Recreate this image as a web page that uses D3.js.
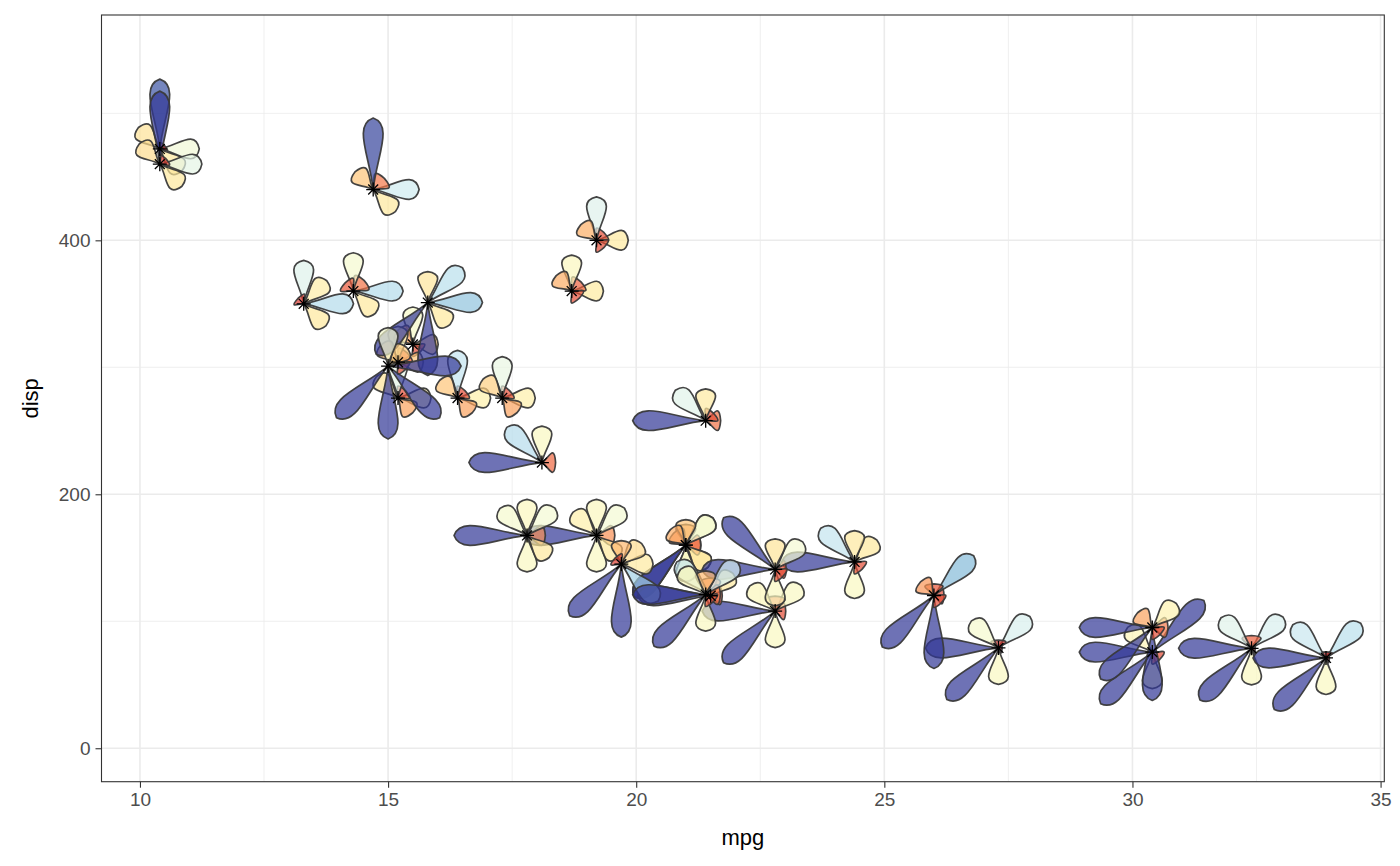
<!DOCTYPE html>
<html>
<head>
<meta charset="utf-8">
<script src="https://cdn.jsdelivr.net/npm/d3@7"></script>
<style>
  body { margin: 0; background: #fff; }
  text { font-family: "Liberation Sans", Arial, Helvetica, sans-serif; }
</style>
</head>
<body>
<svg id="chart" width="1400" height="866"></svg>
<script>
// mtcars, row order as in R
var carNames = ["Mazda RX4", "Mazda RX4 Wag", "Datsun 710", "Hornet 4 Drive", "Hornet Sportabout",
  "Valiant", "Duster 360", "Merc 240D", "Merc 230", "Merc 280", "Merc 280C", "Merc 450SE",
  "Merc 450SL", "Merc 450SLC", "Cadillac Fleetwood", "Lincoln Continental", "Chrysler Imperial",
  "Fiat 128", "Honda Civic", "Toyota Corolla", "Toyota Corona", "Dodge Challenger", "AMC Javelin",
  "Camaro Z28", "Pontiac Firebird", "Fiat X1-9", "Porsche 914-2", "Lotus Europa", "Ford Pantera L",
  "Ferrari Dino", "Maserati Bora", "Volvo 142E"];
var mpg  = [21.0, 21.0, 22.8, 21.4, 18.7, 18.1, 14.3, 24.4, 22.8, 19.2, 17.8, 16.4, 17.3, 15.2, 10.4, 10.4,
  14.7, 32.4, 30.4, 33.9, 21.5, 15.5, 15.2, 13.3, 19.2, 27.3, 26.0, 30.4, 15.8, 19.7, 15.0, 21.4];
var disp = [160, 160, 108, 258, 360, 225, 360, 146.7, 140.8, 167.6, 167.6, 275.8, 275.8, 275.8, 472, 460,
  440, 78.7, 75.7, 71.1, 120.1, 318, 304, 350, 400, 79, 120.3, 95.1, 351, 145, 301, 121];
var hp   = [110, 110, 93, 110, 175, 105, 245, 62, 95, 123, 123, 180, 180, 180, 205, 215,
  230, 66, 52, 65, 97, 150, 150, 245, 175, 66, 91, 113, 264, 175, 335, 109];
var drat = [3.90, 3.90, 3.85, 3.08, 3.15, 2.76, 3.21, 3.69, 3.92, 3.92, 3.92, 3.07, 3.07, 3.07, 2.93, 3.00,
  3.23, 4.08, 4.93, 4.22, 3.70, 2.76, 3.15, 3.73, 3.08, 4.08, 4.43, 3.77, 4.22, 3.62, 3.54, 4.11];
var wt   = [2.620, 2.875, 2.320, 3.215, 3.440, 3.460, 3.570, 3.190, 3.150, 3.440, 3.440, 4.070, 3.730, 3.780,
  5.250, 5.424, 5.345, 2.200, 1.615, 1.835, 2.465, 3.520, 3.435, 3.840, 3.845, 1.935, 2.140, 1.513,
  3.170, 2.770, 3.570, 2.780];
var qsec = [16.46, 17.02, 18.61, 19.44, 17.02, 20.22, 15.84, 20.00, 22.90, 18.30, 18.90, 17.40, 17.60, 18.00,
  17.98, 17.82, 17.42, 19.47, 18.52, 19.90, 20.01, 16.87, 17.30, 15.41, 17.05, 18.90, 16.70, 16.90,
  14.50, 15.50, 14.60, 18.60];
var vs   = [0, 0, 1, 1, 0, 1, 0, 1, 1, 1, 1, 0, 0, 0, 0, 0, 0, 1, 1, 1, 1, 0, 0, 0, 0, 1, 0, 1, 0, 0, 0, 1];
var am   = [1, 1, 1, 0, 0, 0, 0, 0, 0, 0, 0, 0, 0, 0, 0, 0, 0, 1, 1, 1, 0, 0, 0, 0, 0, 1, 1, 1, 1, 1, 1, 1];
var gear = [4, 4, 4, 3, 3, 3, 3, 4, 4, 4, 4, 3, 3, 3, 3, 3, 3, 4, 4, 4, 3, 3, 3, 3, 3, 4, 5, 5, 5, 5, 5, 4];
var carb = [4, 4, 1, 1, 2, 1, 4, 2, 2, 4, 4, 3, 3, 3, 4, 4, 4, 1, 2, 1, 1, 2, 2, 4, 2, 1, 2, 2, 4, 6, 8, 2];

// petals, counter-clockwise from 3 o'clock
var petalVars = [hp, drat, wt, qsec, vs, am, gear, carb];
var petalAngles = [0, 45, 90, 135, 180, 225, 270, 315];

var xTicks = [10, 15, 20, 25, 30, 35];
var yTicks = [0, 200, 400];
var yLimits = [1.1, 550];

var svg = d3.select("#chart"),
    margin = {top: 15, right: 15.7, bottom: 84.3, left: 101.5},
    width = 1400 - margin.left - margin.right,
    height = 866 - margin.top - margin.bottom;

function expand(ext) {
    var d = (ext[1] - ext[0]) * 0.05;
    return [ext[0] - d, ext[1] + d];
}

var x = d3.scaleLinear().domain(expand(d3.extent(mpg))).range([0, width]);
var y = d3.scaleLinear().domain(expand(yLimits)).range([height, 0]);
var r = d3.scaleLinear().domain([0, 1]).range([0, 73]);

var g = svg.append("g").attr("transform", "translate(" + margin.left + "," + margin.top + ")");

// grid
var xMinor = xTicks.slice(0, -1).map(function (t) { return t + 2.5; });
var yMinor = [100, 300, 500];

g.append("g").selectAll("line").data(xMinor).enter().append("line")
    .attr("x1", x).attr("x2", x).attr("y1", 0).attr("y2", height)
    .attr("stroke", "#ebebeb").attr("stroke-width", 0.8);
g.append("g").selectAll("line").data(yMinor).enter().append("line")
    .attr("y1", y).attr("y2", y).attr("x1", 0).attr("x2", width)
    .attr("stroke", "#ebebeb").attr("stroke-width", 0.8);
g.append("g").selectAll("line").data(xTicks).enter().append("line")
    .attr("x1", x).attr("x2", x).attr("y1", 0).attr("y2", height)
    .attr("stroke", "#ebebeb").attr("stroke-width", 1.6);
g.append("g").selectAll("line").data(yTicks).enter().append("line")
    .attr("y1", y).attr("y2", y).attr("x1", 0).attr("x2", width)
    .attr("stroke", "#ebebeb").attr("stroke-width", 1.6);

// petals
var norm = petalVars.map(function (v) {
    return d3.scaleLinear().domain(d3.extent(v)).range([0, 1]);
});

function petalPath(L) {
    var k = Math.min(1, Math.sqrt(L / 14)),
        h1 = 3.2 * k,
        h2 = 20.5 * k;
    return "M0,0C" + (0.45 * L) + "," + (-h1) + " " + (0.9 * L) + "," + (-h2) + " " + L + ",0" +
        "C" + (0.9 * L) + "," + h2 + " " + (0.45 * L) + "," + h1 + " 0,0Z";
}

var petals = [];
mpg.forEach(function (m, i) {
    petalVars.forEach(function (v, j) {
        var val = norm[j](v[i]);
        if (val > 0) {
            petals.push({cx: x(m), cy: y(disp[i]), angle: petalAngles[j], value: val});
        }
    });
});

g.append("g").selectAll("path").data(petals).enter().append("path")
    .attr("d", function (d) { return petalPath(r(d.value)); })
    .attr("transform", function (d) {
        return "translate(" + d.cx + "," + d.cy + ") rotate(" + (-d.angle) + ")";
    })
    .attr("fill", function (d) { return d3.interpolateRdYlBu(d.value); })
    .attr("fill-opacity", 0.7)
    .attr("stroke", "#3a3a3a")
    .attr("stroke-opacity", 0.95)
    .attr("stroke-width", 1.7)
    .attr("stroke-linejoin", "round");

// asterisk centres
var s = 7, sd = s / Math.SQRT2;
var star = "M" + (-s) + ",0H" + s + "M0," + (-s) + "V" + s +
    "M" + (-sd) + "," + (-sd) + "L" + sd + "," + sd + "M" + (-sd) + "," + sd + "L" + sd + "," + (-sd);
g.append("g").selectAll("path").data(mpg).enter().append("path")
    .attr("d", star)
    .attr("transform", function (d, i) { return "translate(" + x(d) + "," + y(disp[i]) + ")"; })
    .attr("fill", "none")
    .attr("stroke", "#000")
    .attr("stroke-width", 1.3);

// panel border
g.append("rect").attr("width", width).attr("height", height)
    .attr("fill", "none").attr("stroke", "#333").attr("stroke-width", 1.1);

// axes
var xAxis = g.append("g").attr("transform", "translate(0," + height + ")")
    .call(d3.axisBottom(x).tickValues(xTicks).tickSize(6).tickPadding(5));
var yAxis = g.append("g")
    .call(d3.axisLeft(y).tickValues(yTicks).tickSize(6).tickPadding(5));
[xAxis, yAxis].forEach(function (a) {
    a.select(".domain").remove();
    a.selectAll(".tick line").attr("stroke", "#333").attr("stroke-width", 1.1);
    a.selectAll(".tick text").attr("fill", "#4d4d4d").style("font-size", "19px");
});

g.append("text")
    .attr("x", width / 2).attr("y", height + 63)
    .attr("text-anchor", "middle")
    .style("font-size", "22px")
    .text("mpg");
g.append("text")
    .attr("transform", "translate(" + (-64) + "," + (height / 2) + ") rotate(-90)")
    .attr("text-anchor", "middle")
    .style("font-size", "22px")
    .text("disp");
</script>
</body>
</html>
